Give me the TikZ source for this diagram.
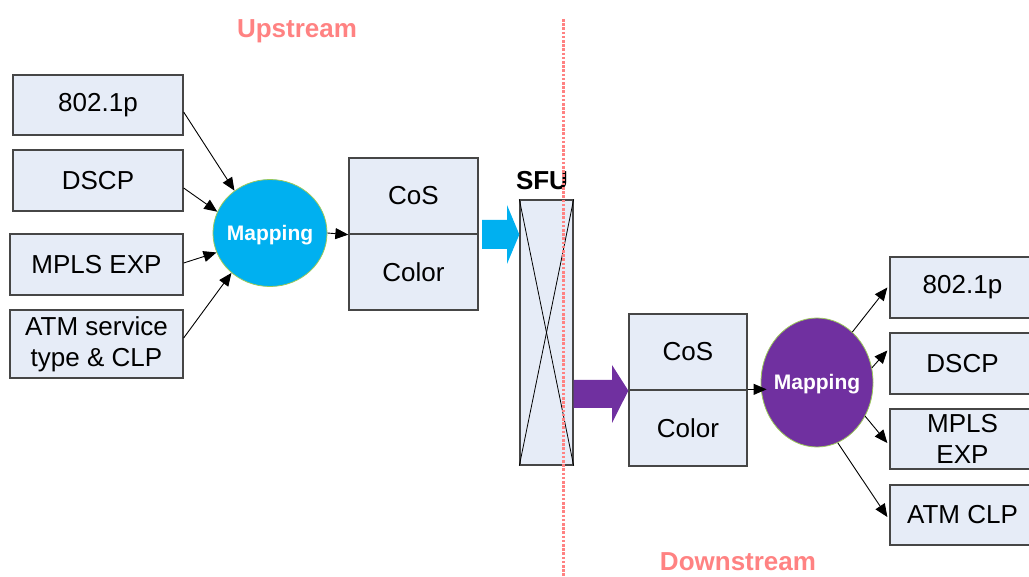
\documentclass[tikz,border=0pt]{standalone}
\usepackage{fontspec}
\setmainfont{Liberation Sans}
\usetikzlibrary{shapes.geometric,arrows.meta}

\definecolor{boxfill}{RGB}{230,236,247}
\definecolor{boxline}{RGB}{70,70,70}
\definecolor{mapblue}{RGB}{0,176,240}
\definecolor{mappurple}{RGB}{112,48,160}
\definecolor{rimgreen}{RGB}{155,200,90}
\definecolor{salmon}{RGB}{255,130,130}

\tikzset{
  fieldbox/.style={draw=boxline, line width=1.3pt, fill=boxfill, inner sep=0pt,
    align=center, font=\fontsize{26}{31}\selectfont},
  mapnode/.style={ellipse, draw=rimgreen, line width=0.8pt, inner sep=0pt},
  maplabel/.style={text=white, inner sep=0pt, anchor=base, font=\fontsize{21}{25}\selectfont\bfseries},
  arr/.style={line width=0.9pt, -{Triangle[length=13pt,width=11pt]}},
  banner/.style={text=salmon, font=\fontsize{26}{31}\selectfont\bfseries},
}

\begin{document}
\begin{tikzpicture}[x=1pt,y=-1pt]
\useasboundingbox (0,0) rectangle (1029,577);

% upstream input fields
\node[fieldbox, minimum width=170pt, minimum height=60pt] (l1) at (98,105) {802.1p};
\node[fieldbox, minimum width=170pt, minimum height=61pt] (l2) at (98,180.5) {DSCP};
\node[fieldbox, minimum width=173pt, minimum height=61pt] (l3) at (96.5,264.5) {MPLS EXP};
\node[fieldbox, minimum width=173pt, minimum height=68pt] (l4) at (96.5,344) {ATM service\\type \& CLP};

% upstream mapping
\node[mapnode, fill=mapblue, minimum width=114pt, minimum height=107pt] (mapU) at (270,233) {};
\node[maplabel] (mapUtext) at ([yshift=-7.5pt]mapU.center) {Mapping};

% upstream CoS / Color
\node[fieldbox, minimum width=129pt, minimum height=76pt] (cosU) at (413.5,196) {CoS};
\node[fieldbox, minimum width=129pt, minimum height=76pt] (colU) at (413.5,272) {Color};

% switch fabric
\node[fieldbox, minimum width=53pt, minimum height=265pt] (sfu) at (546.5,332.5) {};
\draw[line width=0.8pt] (sfu.north west) -- (sfu.south east);
\draw[line width=0.8pt] (sfu.north east) -- (sfu.south west);
\node[font=\fontsize{26}{31}\selectfont\bfseries] (sfulabel) at (542,181) {SFU};

% downstream CoS / Color
\node[fieldbox, minimum width=118pt, minimum height=76pt] (cosD) at (688,352) {CoS};
\node[fieldbox, minimum width=118pt, minimum height=76pt] (colD) at (688,428) {Color};

% downstream mapping
\node[mapnode, fill=mappurple, minimum width=112pt, minimum height=129pt] (mapD) at (817,382.5) {};
\node[maplabel] (mapDtext) at ([yshift=-7pt]mapD.center) {Mapping};

% downstream output fields
\node[fieldbox, minimum width=145pt, minimum height=61pt] (r1) at (962.5,287.5) {802.1p};
\node[fieldbox, minimum width=145pt, minimum height=61pt] (r2) at (962.5,363.5) {DSCP};
\node[fieldbox, minimum width=145pt, minimum height=60pt] (r3) at (962.5,439) {MPLS\\EXP};
\node[fieldbox, minimum width=145pt, minimum height=60pt] (r4) at (962.5,515) {ATM CLP};

% block arrows into and out of the fabric
\fill[mapblue] (482,220) -- (507,220) -- (507,205) -- (sfu.west |- 0,234.5)
  -- (507,264) -- (507,249) -- (482,249) -- cycle;
\fill[mappurple] (sfu.east |- 0,380) -- (612,380) -- (612,365) -- (cosD.south west)
  -- (612,423) -- (612,408) -- (sfu.east |- 0,408) -- cycle;

% connectors
\draw[arr] ([yshift=-7pt]l1.east) -- (mapU.130);
\draw[arr] ([yshift=-7.5pt]l2.east) -- (mapU.158);
\draw[arr] ([yshift=1.5pt]l3.east) -- (mapU.200);
\draw[arr] ([yshift=6pt]l4.east) -- (mapU.226);
\draw[arr] (mapU.east) -- (cosU.south west);

\draw[arr] (colD.north east) -- ([xshift=6pt]mapD.west |- colD.north east);
\draw[arr] (mapD.55) -- ([xshift=-2pt]r1.west);
\draw[arr] (mapD.15) -- ([xshift=-2pt,yshift=13pt]r2.west);
\draw[arr] (mapD.-35) -- ([xshift=-2pt,yshift=-4pt]r3.west);
\draw[arr] (mapD.-71) -- ([xshift=-2pt,yshift=-2pt]r4.west);

% upstream / downstream divider
\coordinate (divtop) at (563,19);
\coordinate (divbot) at (563,577);
\draw[salmon, line width=3pt, dash pattern=on 2.6pt off 1.6pt] (divtop) -- (divbot);

\node[banner] (up) at (297,31) {Upstream};
\node[banner] (down) at (738,562) {Downstream};
\end{tikzpicture}
\end{document}
